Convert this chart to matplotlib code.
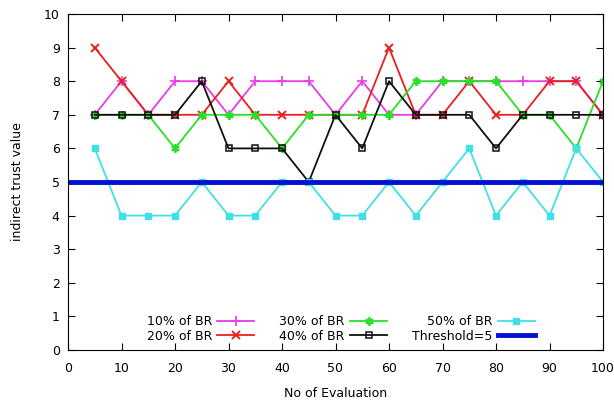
import matplotlib.pyplot as plt
import numpy as np

x = list(range(5, 105, 5))

br10 = [7, 8, 7, 8, 8, 7, 8, 8, 8, 7, 8, 7, 7, 8, 8, 8, 8, 8, 8, 7]
br20 = [9, 8, 7, 7, 7, 8, 7, 7, 7, 7, 7, 9, 7, 7, 8, 7, 7, 8, 8, 7]
br30 = [7, 7, 7, 6, 7, 7, 7, 6, 7, 7, 7, 7, 8, 8, 8, 8, 7, 7, 6, 8]
br40 = [7, 7, 7, 7, 8, 6, 6, 6, 5, 7, 6, 8, 7, 7, 7, 6, 7, 7, 7, 7]
br50 = [6, 4, 4, 4, 5, 4, 4, 5, 5, 4, 4, 5, 4, 5, 6, 4, 5, 4, 6, 5]
threshold = 5

fig = plt.figure(figsize=(6.14, 4.05), dpi=100)
ax = fig.add_axes([68/614, 55/405, 535/614, 336/405])

ax.plot(x, br10, color='#e83ce8', marker='+', ms=7, mew=1.2, lw=1.3, label='10% of BR')
ax.plot(x, br20, color='#e82020', marker='x', ms=5.5, mew=1.4, lw=1.3, label='20% of BR')
ax.plot(x, br30, color='#28e028', marker=(6, 2, 0), ms=6, mew=1.4, lw=1.3, label='30% of BR')
ax.plot(x, br40, color='#101010', marker='s', ms=4.5, mfc='none', mew=1.1, lw=1.3, label='40% of BR')
ax.plot(x, br50, color='#40e0e8', marker='s', ms=4.5, lw=1.3, label='50% of BR')
ax.axhline(threshold, color='#0010d0', lw=3.5, label='Threshold=5')

ax.set_xlim(0, 100)
ax.set_ylim(0, 10)
ax.set_xticks(range(0, 101, 10))
ax.set_yticks(range(0, 11, 1))
ax.tick_params(direction='in', top=True, right=True, labelsize=9, length=5)
ax.tick_params(axis='x', pad=9)
ax.tick_params(axis='y', pad=6)
ax.set_xlabel('No of Evaluation', fontsize=9, labelpad=8)
ax.set_ylabel('indirect trust value', fontsize=9, labelpad=14)

ax.legend(loc='lower center', ncol=3, frameon=False, markerfirst=False,
          fontsize=9, handlelength=3, columnspacing=2.0, labelspacing=0.1,
          borderaxespad=0.2, handletextpad=0.4, bbox_to_anchor=(0.51, 0.0))

fig.savefig('out.png', dpi=100)
